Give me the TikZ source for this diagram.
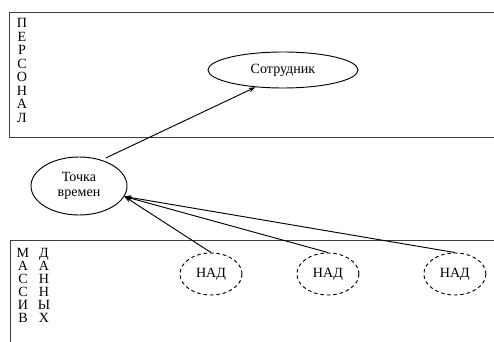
\documentclass[tikz,border=0pt]{standalone}
\usepackage{fontspec}
\setmainfont{Liberation Serif}
\usetikzlibrary{arrows.meta, shapes.geometric, positioning}

\begin{document}
\begin{tikzpicture}[x=0.03cm, y=-0.03cm, line width=0.8pt,
                    every node/.style={inner sep=0, font=\fontsize{12}{13}\selectfont},
                    oval/.style={ellipse, draw},
                    nad/.style={ellipse, draw, dash pattern=on 3pt off 2.5pt, minimum width=1.86cm, minimum height=1.26cm},
                    arr/.style={-{Stealth[length=6pt, width=4pt]}}]
                    \useasboundingbox (0,0) rectangle (494,342);
                    \draw[black!75] (494,12) -- (9,12) -- (9,137) -- (494,137);
                    \draw[black!75] (494,240) -- (10,240) -- (10,342);
                    \node[align=center, font=\fontsize{12}{11.5}\selectfont](pers) at (22,70.5) {П\\Е\\Р\\С\\О\\Н\\А\\Л};
                    \node[align=center, font=\fontsize{12}{11}\selectfont](mas) at (23,285.5) {М\\А\\С\\С\\И\\В};
                    \node[align=center, font=\fontsize{12}{11}\selectfont](dan) at (44,285.5) {Д\\А\\Н\\Н\\Ы\\Х};

                    \node[oval, minimum width=4.5cm, minimum height=1.08cm](sotr) at (283,70) {Сотрудник};
                    \node[oval, minimum width=2.88cm, minimum height=1.74cm, align=center](tochka) at (79,186) {Точка\\времен};
                    \node[nad](nadl) at (211,274) {НАД};
                    \node[nad, right=1.62cm of nadl](nadc) {НАД};
                    \node[nad, right=1.92cm of nadc](nadr) {НАД};

                    \draw[arr, shorten <=4pt] (tochka.49) -- (sotr.212);
                    \draw[arr] (nadl.north) -- (tochka.-13);
                    \draw[arr] (nadc.north) -- (tochka.-13);
                    \draw[arr] (nadr.north) -- (tochka.-13);
                \end{tikzpicture}
\end{document}
